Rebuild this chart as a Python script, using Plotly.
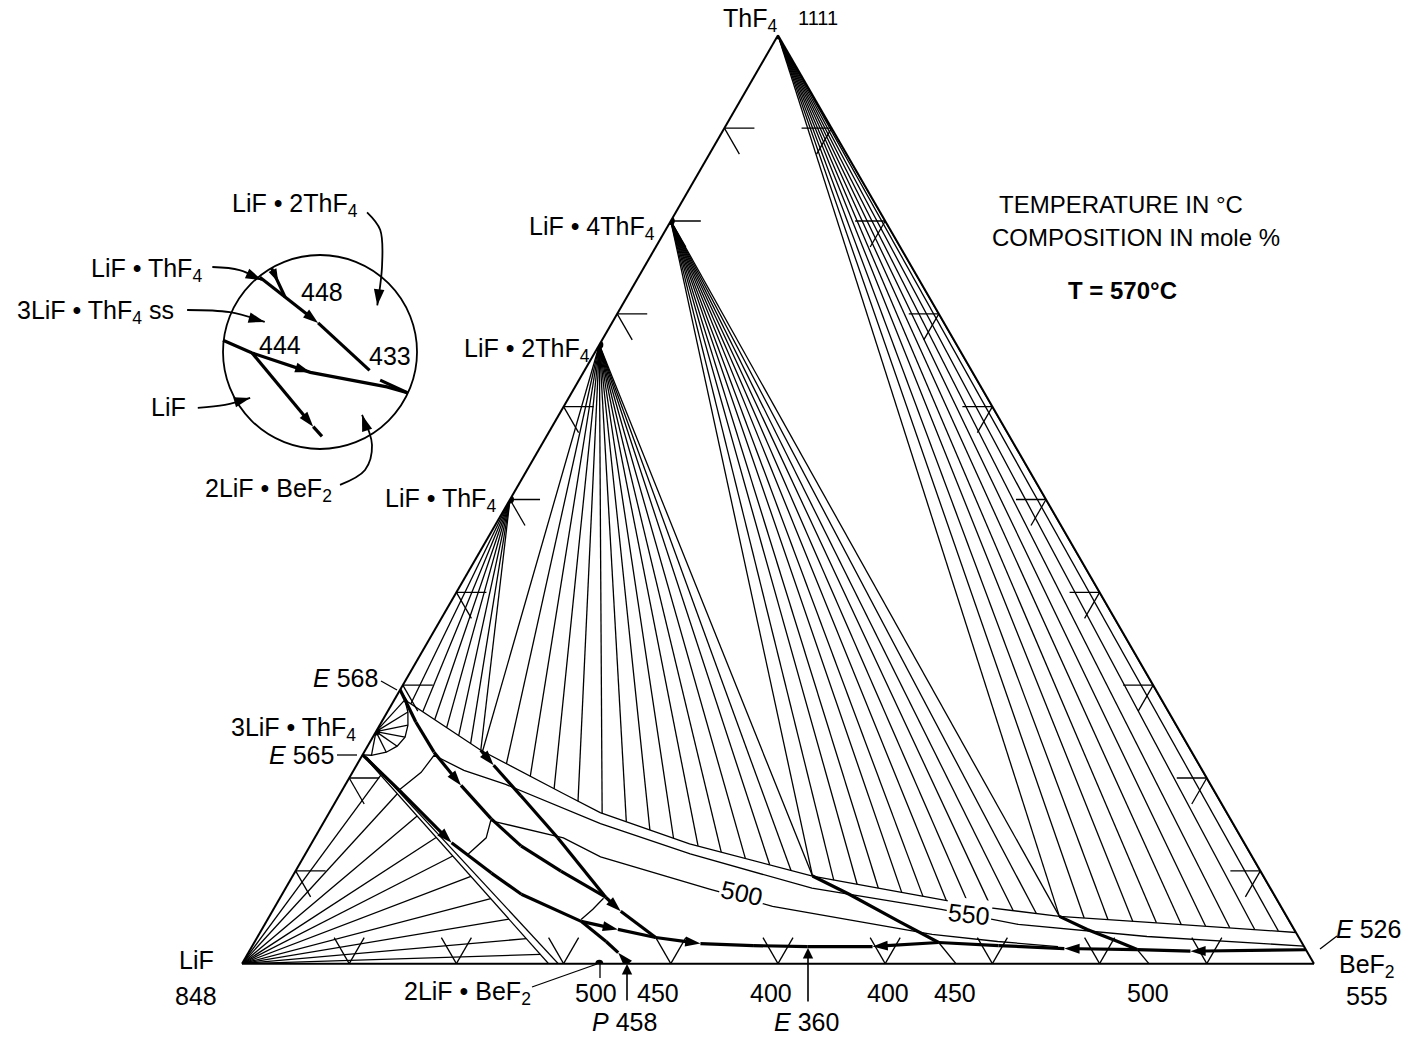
import plotly.graph_objects as go

FONT = "Liberation Sans, Arial, Helvetica, sans-serif"

# ---------------- DATA: compositions in mole % given as (ThF4, BeF2); LiF = 100 - ThF4 - BeF2
compound_labels = ["ThF4", "LiF·4ThF4", "LiF·2ThF4", "LiF·ThF4", "3LiF·ThF4", "2LiF·BeF2"]
compound_thf4 = [100.0, 80.0, 66.67, 50.0, 25.0, 0.0]
compound_bef2 = [0.0, 0.0, 0.0, 0.0, 0.0, 33.33]

# boundary of the liquid field at T = 570 C
liq570_thf4 = [29.5, 28.2, 22.99, 18.33, 16.27, 12.9, 9.44, 6.18, 5.1, 4.40, 3.36]
liq570_bef2 = [0.0, 1.36, 10.78, 20.8, 25.28, 35.3, 48.5, 65.6, 73.7, 83.1, 96.64]

# tie-line ends on the 570 C liquidus, one list per solid phase
tie_thf4_end_thf4 = [5.1, 4.92, 4.75, 4.58, 4.40, 4.23, 4.06, 3.88, 3.71, 3.54, 3.36]
tie_thf4_end_bef2 = [73.7, 76.1, 78.4, 80.8, 83.1, 85.5, 87.85, 90.2, 92.6, 94.9, 96.6]

tie_1_4_end_thf4 = [9.44, 9.00, 8.56, 8.12, 7.68, 7.25, 6.80, 6.37, 6.01, 5.70, 5.40, 5.10]
tie_1_4_end_bef2 = [48.5, 50.7, 53.1, 55.3, 57.7, 59.9, 62.3, 64.6, 66.9, 69.1, 71.4, 73.7]

tie_1_2_end_thf4 = [22.88, 21.53, 20.18, 18.83, 17.49, 16.19, 15.30, 14.40, 13.51, 12.68, 12.01, 11.32, 10.65, 10.03, 9.44]
tie_1_2_end_bef2 = [11.0, 13.9, 16.8, 19.7, 22.6, 25.5, 28.2, 30.85, 33.5, 36.2, 38.7, 41.3, 43.9, 46.2, 48.5]

tie_1_1_end_thf4 = [27.98, 27.13, 26.27, 25.42, 24.57, 23.71, 22.99]
tie_1_1_end_bef2 = [1.75, 3.30, 4.84, 6.38, 7.93, 9.47, 10.78]

tie_lif_end_thf4 = [20.3, 18.3, 15.9, 13.6, 11.6, 9.4, 7.0, 4.8, 2.7, 1.0]
tie_lif_end_bef2 = [2.80, 5.34, 8.39, 11.31, 13.86, 16.65, 19.70, 22.50, 25.17, 27.33]

# 3LiF.ThF4 solid-solution region (arc) and its double-line liquidus
ss_arc_thf4 = [29.5, 28.42, 27.11, 25.70, 24.40, 23.43, 22.78, 22.45, 22.5]
ss_arc_bef2 = [0.0, 0.98, 1.92, 2.63, 3.01, 2.76, 2.07, 0.85, 0.0]
double_line_a_thf4 = [22.5, 0.0]
double_line_a_bef2 = [0.0, 28.6]
double_line_b_thf4 = [22.3, 0.0]
double_line_b_bef2 = [0.45, 29.5]

# liquidus isotherms
iso550_thf4 = [18.66, 20.61, 22.45, 20.82, 19.31, 15.08, 11.82, 8.13, 5.86, 4.23, 2.93, 1.9]
iso550_bef2 = [5.27, 6.41, 6.69, 10.29, 14.94, 25.9, 35.9, 49.1, 62.3, 70.3, 82.96, 98.1]
iso500_thf4 = [11.82, 13.56, 15.4, 13.56, 11.5, 8.03, 6.18, 4.72, 3.15, 2.39, 1.84]
iso500_bef2 = [15.2, 16.0, 15.5, 23.2, 27.7, 39.6, 46.4, 54.3, 62.8, 69.3, 75.2]
iso450_thf4 = [7.05, 5.86, 4.77]
iso450_bef2 = [30.2, 29.8, 29.25]

# univariant boundary curves (ordered in the direction of falling temperature)
b1_thf4 = [29.5, 26.03, 22.78, 19.20, 15.62, 12.69, 9.98, 7.16]
b1_bef2 = [0.0, 3.20, 6.52, 10.83, 15.42, 19.68, 24.76, 30.35]
b2_thf4 = [22.99, 21.37, 18.11, 13.56, 7.16, 5.64, 2.82]
b2_bef2 = [10.78, 12.79, 16.94, 22.67, 30.35, 32.51, 37.18]
b3_thf4 = [22.5, 18.66, 13.02, 9.76, 7.48, 4.56, 3.69, 2.82, 2.17, 1.95, 1.84]
b3_bef2 = [0.0, 5.36, 13.04, 18.39, 22.32, 29.36, 33.22, 37.18, 41.68, 46.7, 51.85]
b4_thf4 = [0.0, 1.19, 2.39, 4.56]
b4_bef2 = [36.0, 34.5, 32.77, 29.36]
b5_thf4 = [9.44, 7.48, 4.56, 2.28, 0.0]
b5_bef2 = [48.5, 52.9, 59.0, 63.85, 66.6]
b6_thf4 = [5.1, 3.69, 2.39, 1.52, 0.0]
b6_bef2 = [73.7, 77.0, 80.5, 82.75, 84.6]
b7_thf4 = [1.5, 1.35, 1.52, 1.63, 1.95, 2.28, 1.84, 1.84]
b7_bef2 = [98.5, 87.8, 82.75, 75.9, 69.6, 63.85, 57.9, 51.85]

# composition scale ticks (mole %)
tick_values = [10, 20, 30, 40, 50, 60, 70, 80, 90]

# inset: enlarged view (unit = inset circle radius)
in_b448_u = [-0.62, -0.36, -0.02, 0.62, 0.90]
in_b448_v = [0.77, 0.566, 0.30, -0.29, -0.42]
in_b448s_u = [-0.50, -0.43, -0.36]
in_b448s_v = [0.865, 0.72, 0.566]
in_b444_u = [-1.0, -0.70, -0.10, 0.69, 0.90]
in_b444_v = [0.12, -0.01, -0.21, -0.36, -0.42]
in_bp_u = [-0.70, -0.07, 0.12]
in_bp_v = [-0.01, -0.77, -0.98]
in_ptr = {
    "LiF·2ThF4": ([0.485, 0.62, 0.64, 0.59], [1.44, 1.26, 0.90, 0.48]),
    "LiF·ThF4": ([-1.11, -0.83, -0.60], [0.876, 0.845, 0.74]),
    "3LiF·ThF4 ss": ([-1.37, -0.93, -0.57], [0.433, 0.41, 0.31]),
    "LiF": ([-1.26, -0.98, -0.72], [-0.577, -0.546, -0.474]),
    "2LiF·BeF2": ([0.206, 0.464, 0.536, 0.433], [-1.37, -1.216, -0.959, -0.649]),
}

# ---------------- FIGURE
fig = go.Figure()


def tern_lines(polylines, width):
    A, B, C = [], [], []
    for pl in polylines:
        for a, c in pl:
            A.append(a)
            C.append(c)
            B.append(100.0 - a - c)
        A.append(None)
        B.append(None)
        C.append(None)
    return go.Scatterternary(a=A, b=B, c=C, mode="lines", line=dict(color="black", width=width),
                             hoverinfo="skip", showlegend=False)


def fan(src_a, src_c, ends_a, ends_c):
    return [[(src_a, src_c), (ea, ec)] for ea, ec in zip(ends_a, ends_c)]


thin = 1.3
polys = []
polys += fan(compound_thf4[0], compound_bef2[0], tie_thf4_end_thf4, tie_thf4_end_bef2)
polys += fan(compound_thf4[1], compound_bef2[1], tie_1_4_end_thf4, tie_1_4_end_bef2)
polys += fan(compound_thf4[2], compound_bef2[2], tie_1_2_end_thf4, tie_1_2_end_bef2)
polys += fan(compound_thf4[3], compound_bef2[3], tie_1_1_end_thf4, tie_1_1_end_bef2)
polys += fan(0.0, 0.0, tie_lif_end_thf4, tie_lif_end_bef2)
polys += fan(compound_thf4[4], compound_bef2[4], ss_arc_thf4[1:-1], ss_arc_bef2[1:-1])
polys.append(list(zip(liq570_thf4, liq570_bef2)))
polys.append(list(zip(ss_arc_thf4, ss_arc_bef2)))
polys.append(list(zip(double_line_a_thf4, double_line_a_bef2)))
polys.append(list(zip(double_line_b_thf4, double_line_b_bef2)))
polys.append(list(zip(iso550_thf4, iso550_bef2)))
polys.append(list(zip(iso500_thf4, iso500_bef2)))
polys.append(list(zip(iso450_thf4, iso450_bef2)))
fig.add_trace(tern_lines(polys, thin))

# tick stubs along the three edges
stub = 2.8
tick_polys = []
for k in tick_values:
    tick_polys.append([(k, 0.0), (k, stub)])
    tick_polys.append([(k, 0.0), (k - stub, stub)])
    tick_polys.append([(k, 100.0 - k), (k, 100.0 - k - stub)])
    tick_polys.append([(k, 100.0 - k), (k - stub, 100.0 - k)])
    tick_polys.append([(0.0, k), (stub, k)])
    tick_polys.append([(0.0, k), (stub, k - stub)])
fig.add_trace(tern_lines(tick_polys, thin))

ARROW = 16


def boundary(th, be, arrows, width=3.2):
    sizes = [ARROW if i in arrows else 0 for i in range(len(th))]
    return go.Scatterternary(
        a=th, c=be, b=[100.0 - x - y for x, y in zip(th, be)],
        mode="lines+markers", line=dict(color="black", width=width),
        marker=dict(symbol="arrow", size=sizes, color="black", opacity=1, angleref="previous",
                    line=dict(width=0)),
        hoverinfo="skip", showlegend=False)


fig.add_trace(boundary(b1_thf4, b1_bef2, [3]))
fig.add_trace(boundary(b2_thf4, b2_bef2, [1, 5]))
fig.add_trace(boundary(b3_thf4, b3_bef2, [2, 6, 8]))
fig.add_trace(boundary(b4_thf4, b4_bef2, [1]))
fig.add_trace(boundary(b5_thf4[:4], b5_bef2[:4], []))
fig.add_trace(boundary(b6_thf4[:4], b6_bef2[:4], []))
fig.add_trace(boundary(b7_thf4, b7_bef2, [1, 3, 6]))
fig.add_trace(tern_lines([list(zip(b5_thf4[3:], b5_bef2[3:])), list(zip(b6_thf4[3:], b6_bef2[3:]))], thin))

fig.add_trace(go.Scatterternary(
    a=compound_thf4, c=compound_bef2, b=[100.0 - x - y for x, y in zip(compound_thf4, compound_bef2)],
    mode="markers", marker=dict(size=8, color="black"), hoverinfo="skip", showlegend=False))


# ---- inset
def inset_line(u, v, arrows, width=3.2, size=ARROW, spline=False):
    sizes = [size if i in arrows else 0 for i in range(len(u))]
    return go.Scatter(x=u, y=v, mode="lines+markers",
                      line=dict(color="black", width=width, shape="spline" if spline else "linear"),
                      marker=dict(symbol="arrow", size=sizes, angleref="previous", color="black",
                                  opacity=1, line=dict(width=0)),
                      hoverinfo="skip", showlegend=False)


fig.add_trace(inset_line(in_b448_u, in_b448_v, [2]))
fig.add_trace(inset_line(in_b448s_u, in_b448s_v, [1], size=14))
fig.add_trace(inset_line(in_b444_u, in_b444_v, [2]))
fig.add_trace(inset_line(in_bp_u, in_bp_v, [1]))
for name, (uu, vv) in in_ptr.items():
    fig.add_trace(inset_line(uu, vv, [len(uu) - 1], width=1.8, size=17, spline=True))


def P(x, y):
    return x / 1420.0, 1.0 - y / 1040.0


axis_t = dict(showgrid=False, showticklabels=False, ticks="", showline=True, linecolor="black",
              linewidth=2, title=dict(text=""), min=0)

fig.update_layout(
    width=1420, height=1040,
    margin=dict(l=0, r=0, t=0, b=0),
    paper_bgcolor="white", plot_bgcolor="rgba(0,0,0,0)",
    hovermode=False, dragmode=False, showlegend=False,
    ternary=dict(sum=100, bgcolor="white",
                 domain=dict(x=[242 / 1420, 1314 / 1420], y=[1 - 964 / 1040, 1 - 35 / 1040]),
                 aaxis=axis_t, baxis=axis_t, caxis=axis_t),
    xaxis=dict(domain=[0, 450 / 1420], range=[-3.299, 1.340], visible=False, fixedrange=True),
    yaxis=dict(domain=[1 - 510 / 1040, 1 - 180 / 1040], range=[-1.629, 1.773], visible=False, fixedrange=True),
)

fig.add_shape(type="circle", xref="x", yref="y", x0=-1, y0=-1, x1=1, y1=1, line=dict(color="black", width=1.8))

ann = []


def txt(x, y, s, size=25, xanchor="center", ref="paper", angle=0, bg=None, bold=False):
    if bold:
        s = "<b>" + s + "</b>"
    if ref == "paper":
        px, py = P(x, y)
        d = dict(x=px, y=py, xref="paper", yref="paper")
    else:
        d = dict(x=x, y=y, xref="x", yref="y")
    d.update(text=s, showarrow=False, xanchor=xanchor, yanchor="middle", textangle=angle,
             font=dict(family=FONT, size=size, color="black"))
    if bg:
        d["bgcolor"] = bg
    ann.append(d)


txt(750, 20, "ThF<sub>4</sub>")
txt(818, 18, "1111", size=20)
txt(1121, 205, "TEMPERATURE IN °C", size=24)
txt(1136, 238, "COMPOSITION IN mole %", size=24)
txt(1122, 290, "T = 570°C", size=24, bold=True)
txt(657, 228, "LiF • 4ThF<sub>4</sub>", xanchor="right")
txt(592, 350, "LiF • 2ThF<sub>4</sub>", xanchor="right")
txt(498, 500, "LiF • ThF<sub>4</sub>", xanchor="right")
txt(380, 678, "<i>E</i> 568", xanchor="right")
txt(358, 729, "3LiF • ThF<sub>4</sub>", xanchor="right")
txt(336, 755, "<i>E</i> 565", xanchor="right")
txt(196, 960, "LiF")
txt(196, 996, "848")
txt(1367, 966, "BeF<sub>2</sub>")
txt(1367, 996, "555")
txt(1334, 929, "<i>E</i> 526", xanchor="left")
txt(467, 993, "2LiF • BeF<sub>2</sub>")
txt(596, 993, "500")
txt(658, 993, "450")
txt(771, 993, "400")
txt(888, 993, "400")
txt(955, 993, "450")
txt(1148, 993, "500")
txt(624, 1022, "<i>P</i> 458")
txt(806, 1022, "<i>E</i> 360")
txt(742, 893, "500", angle=12, bg="white")
txt(969, 914, "550", angle=6, bg="white")

# inset labels
txt(-0.26, 1.515, "LiF • 2ThF<sub>4</sub>", ref="x")
txt(-1.79, 0.845, "LiF • ThF<sub>4</sub>", ref="x")
txt(-2.31, 0.41, "3LiF • ThF<sub>4</sub> ss", ref="x")
txt(0.02, 0.62, "448", ref="x")
txt(-0.41, 0.07, "444", ref="x")
txt(0.72, -0.04, "433", ref="x")
txt(-1.56, -0.567, "LiF", ref="x")
txt(-0.536, -1.42, "2LiF • BeF<sub>2</sub>", ref="x")

# arrows for P 458 and E 360
for (x, y, ay) in [(627, 964, 38), (808, 948, 55)]:
    px, py = P(x, y)
    ann.append(dict(x=px, y=py, xref="paper", yref="paper", ax=0, ay=ay, text="", showarrow=True,
                    arrowhead=2, arrowsize=1.3, arrowwidth=1.6, arrowcolor="black"))

fig.update_layout(annotations=ann)

# leader lines
for (x0, y0, x1, y1) in [(381, 681, 397, 690), (337, 755, 357, 755), (1337, 936, 1320, 949),
                         (532, 987, 597, 964), (600, 962, 600, 978)]:
    a0, b0 = P(x0, y0)
    a1, b1 = P(x1, y1)
    fig.add_shape(type="line", xref="paper", yref="paper", x0=a0, y0=b0, x1=a1, y1=b1,
                  line=dict(color="black", width=1.3))

fig.write_html("out.html", config={"displayModeBar": False},
               post_script="document.body.style.margin='0px';")
